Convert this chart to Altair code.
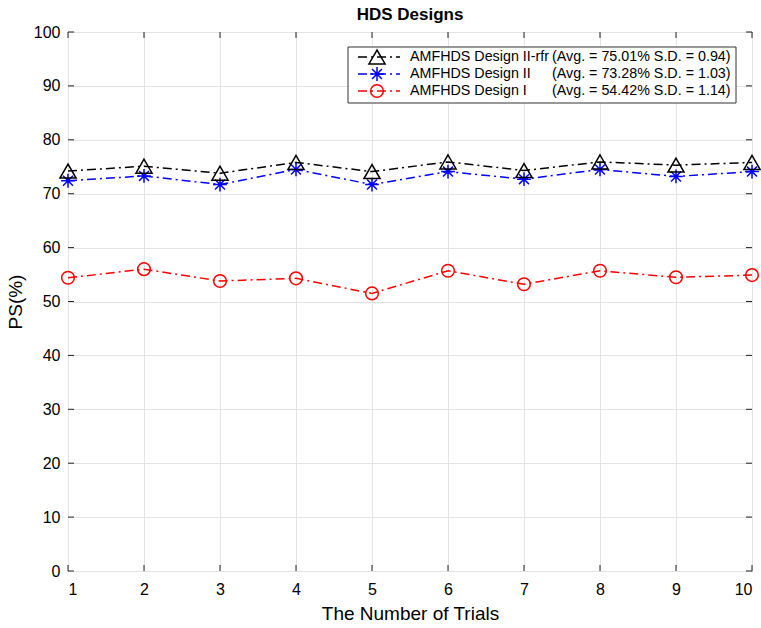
import altair as alt
import pandas as pd

trials = list(range(1, 11))
design_rfr = [74.2, 75.1, 73.8, 75.8, 74.1, 75.9, 74.3, 75.9, 75.3, 75.8]
design_ii = [72.4, 73.3, 71.7, 74.5, 71.7, 74.1, 72.7, 74.5, 73.2, 74.1]
design_i = [54.4, 56.0, 53.8, 54.3, 51.5, 55.7, 53.2, 55.7, 54.5, 54.9]

series_names = ["AMFHDS Design II-rfr", "AMFHDS Design II", "AMFHDS Design I"]
series_stats = ["(Avg. = 75.01% S.D. = 0.94)", "(Avg. = 73.28% S.D. = 1.03)", "(Avg. = 54.42% S.D. = 1.14)"]
series_colors = ["#000000", "#0000ff", "#ff0000"]
ASTERISK = "M0,-1L0,1M-1,0L1,0M-0.72,-0.72L0.72,0.72M-0.72,0.72L0.72,-0.72"
series_shapes = ["triangle-up", ASTERISK, "circle"]
series_sizes = [260, 190, 160]

x_ticks = list(range(1, 11))
y_ticks = list(range(0, 101, 10))

W, H = 684, 539
DASH = [9, 4, 2, 4]

rows = []
for name, vals in zip(series_names, [design_rfr, design_ii, design_i]):
    for t, v in zip(trials, vals):
        rows.append({"trial": t, "ps": v, "series": name})
df = pd.DataFrame(rows)

xs = alt.Scale(domain=[1, 10], nice=False, zero=False)
ys = alt.Scale(domain=[0, 100], nice=False)
cs = alt.Scale(domain=series_names, range=series_colors)

base = alt.Chart(df).encode(
    x=alt.X("trial:Q", scale=xs, title="The Number of Trials",
            axis=alt.Axis(values=x_ticks, format="d", grid=True)),
    y=alt.Y("ps:Q", scale=ys, title="PS(%)",
            axis=alt.Axis(values=y_ticks, format="d", grid=True)),
    color=alt.Color("series:N", scale=cs, legend=None),
)

layers = []
for name, shape, size in zip(series_names[::-1], series_shapes[::-1], series_sizes[::-1]):
    sub = base.transform_filter(alt.datum.series == name)
    layers.append(sub.mark_line(strokeDash=DASH, strokeWidth=1.5))
    layers.append(sub.mark_point(shape=shape, size=size, filled=False, strokeWidth=1.5, opacity=1))

# inward ticks on all four sides
xt = pd.DataFrame({"v": x_ticks})
yt = pd.DataFrame({"v": y_ticks})
layers.append(alt.Chart(xt).mark_rule(color="#222", strokeWidth=1).encode(
    x=alt.X("v:Q", scale=xs), y=alt.value(H), y2=alt.value(H - 6)))
layers.append(alt.Chart(xt).mark_rule(color="#222", strokeWidth=1).encode(
    x=alt.X("v:Q", scale=xs), y=alt.value(0), y2=alt.value(6)))
layers.append(alt.Chart(yt).mark_rule(color="#222", strokeWidth=1).encode(
    y=alt.Y("v:Q", scale=ys), x=alt.value(0), x2=alt.value(6)))
layers.append(alt.Chart(yt).mark_rule(color="#222", strokeWidth=1).encode(
    y=alt.Y("v:Q", scale=ys), x=alt.value(W), x2=alt.value(W - 6)))

# legend box
one = alt.Data(values=[{"a": 1}])
layers.append(alt.Chart(one).mark_rect(fill="white", stroke="#333", strokeWidth=1).encode(
    x=alt.value(280), x2=alt.value(668), y=alt.value(15), y2=alt.value(71)))
for i, (name, stat, col, shape, size) in enumerate(zip(series_names, series_stats, series_colors, series_shapes, series_sizes)):
    yy = 25 + 17 * i
    layers.append(alt.Chart(one).mark_rule(color=col, strokeWidth=1.5, strokeDash=DASH).encode(
        x=alt.value(290), x2=alt.value(332), y=alt.value(yy)))
    layers.append(alt.Chart(one).mark_point(shape=shape, size=size, filled=False, color=col, strokeWidth=1.5, opacity=1).encode(
        x=alt.value(309), y=alt.value(yy)))
    layers.append(alt.Chart(one).mark_text(text=name, align="left", baseline="middle", fontSize=14.3, font="Liberation Sans", color="#000").encode(
        x=alt.value(342), y=alt.value(yy)))
    layers.append(alt.Chart(one).mark_text(text=stat, align="left", baseline="middle", fontSize=14.3, font="Liberation Sans", color="#000").encode(
        x=alt.value(484), y=alt.value(yy)))

chart = alt.layer(*layers).properties(
    width=W, height=H,
    title=alt.TitleParams("HDS Designs", fontSize=17, fontWeight="bold", font="Liberation Sans", color="#000", anchor="middle", offset=0),
    autosize=alt.AutoSizeParams(type="none"),
    padding={"left": 68, "top": 32, "right": 9, "bottom": 57},
).configure_view(stroke="#000", strokeWidth=1).configure_axis(
    labelFont="Liberation Sans", titleFont="Liberation Sans", labelFontSize=16, titleFontSize=19,
    labelColor="#000", titleColor="#000", titleFontWeight="normal",
    tickSize=0, domain=False, gridColor="#e3e3e3", gridWidth=1, labelPadding=7,
).configure_axisX(titlePadding=7, labelPadding=10).configure_axisY(titlePadding=8, labelPadding=8)

chart.save("out.html", embed_options={"renderer": "svg", "actions": False})
